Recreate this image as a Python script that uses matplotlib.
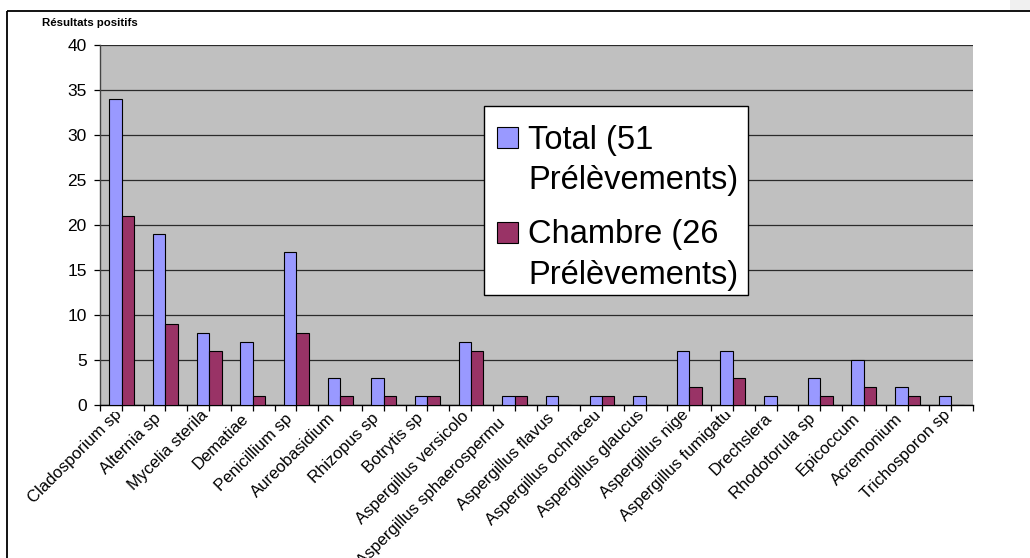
import matplotlib
matplotlib.use('Agg')
import matplotlib.pyplot as plt
import matplotlib.transforms as mtransforms
from matplotlib.patches import Rectangle
import numpy as np

plt.rcParams['font.family'] = ['Liberation Sans', 'DejaVu Sans']

# Moisissures identifiées (libellés tels qu'affichés sur l'axe)
categories = [
    "Cladosporium sp", "Alternia sp", "Mycelia sterila", "Dematiae",
    "Penicillium sp", "Aureobasidium", "Rhizopus sp", "Botrytis sp",
    "Aspergillus versicolo", "Aspergillus sphaerospermu", "Aspergillus flavus",
    "Aspergillus ochraceu", "Aspergillus glaucus", "Aspergillus nige",
    "Aspergillus fumigatu", "Drechslera", "Rhodotorula sp", "Epicoccum",
    "Acremonium", "Trichosporon sp",
]
total = [34, 19, 8, 7, 17, 3, 3, 1, 7, 1, 1, 1, 1, 6, 6, 1, 3, 5, 2, 1]
chambre = [21, 9, 6, 1, 8, 1, 1, 1, 6, 1, 0, 1, 0, 2, 3, 0, 1, 2, 1, 0]
series_names = ["Total (51\nPrélèvements)", "Chambre (26\nPrélèvements)"]
series_colors = ["#9999FF", "#993366"]
yticks = [0, 5, 10, 15, 20, 25, 30, 35, 40]

# labels too long for their slot: how far (px, along the text) they run on
# past the usual end; the part under the axis is cut off
overflowing = {
    "Cladosporium sp": 6, "Mycelia sterila": 5, "Aspergillus versicolo": 3,
    "Aspergillus sphaerospermu": -7, "Aspergillus ochraceu": 5,
    "Aspergillus glaucus": 5, "Aspergillus nige": 5,
    "Aspergillus fumigatu": 5, "Trichosporon sp": 5,
}

W, H = 1030, 558
fig = plt.figure(figsize=(W / 100, H / 100), dpi=100)
# pixel coordinates measured from the top-left corner
px = mtransforms.Affine2D().scale(1 / W, -1 / H).translate(0, 1) + fig.transFigure

# chart frame (only top and left edges fall inside the image)
fig.patches.append(Rectangle((7, 10.5), 1200, 800, transform=px, fill=False,
                             edgecolor="black", linewidth=1.3))
fig.patches.append(Rectangle((1010, 0), 20, 9.5, transform=px,
                             facecolor="#F0F0F0", edgecolor="none"))

ax = fig.add_axes([100 / W, 1 - 405 / H, 873 / W, 360 / H])
ax.set_facecolor("#C0C0C0")

n = len(categories)
x = np.arange(n) + 0.5
bw = 1 / 3.5
ax.bar(x - bw / 2, total, bw, color=series_colors[0], edgecolor="black",
       linewidth=0.8, zorder=3)
ax.bar(x + bw / 2, chambre, bw, color=series_colors[1], edgecolor="black",
       linewidth=0.8, zorder=3)

ax.set_xlim(0, n)
ax.set_ylim(0, 40)
ax.set_yticks(yticks)
ax.yaxis.grid(True, color="#2a2a2a", linewidth=0.9, zorder=1)
ax.set_axisbelow(True)

for side in ["top", "right"]:
    ax.spines[side].set_visible(False)
ax.spines["left"].set_color("#444444")
ax.spines["left"].set_linewidth(1.0)
ax.spines["bottom"].set_color("black")
ax.spines["bottom"].set_linewidth(1.0)

ax.set_xticks(np.arange(n + 1))
ax.set_xticklabels([])
ax.set_xticks(x, minor=True)
ax.set_xticklabels(categories, minor=True, rotation=45, ha="right",
                   va="center", rotation_mode="anchor")
ax.tick_params(axis="x", which="both", direction="out", length=4.5,
               width=0.9, color="black")
ax.tick_params(axis="x", which="minor", pad=2, labelsize=12)
ax.tick_params(axis="y", direction="out", length=4.5, width=0.9,
               color="black", labelsize=12.5, pad=5)

# labels sit a little left of their tick; long ones are cut just under the axis
label_clip = mtransforms.Bbox([[0, 0], [W, H - 412]])
for lab in ax.xaxis.get_minorticklabels():
    dx, dy = -7, -2
    run = overflowing.get(lab.get_text())
    if run is not None:
        dx, dy = dx + run * 0.707, dy + run * 0.707
        lab.set_clip_box(label_clip)
        lab.set_clip_on(True)
    lab.set_transform(lab.get_transform() + mtransforms.ScaledTranslation(
        dx / 100, dy / 100, fig.dpi_scale_trans))

fig.text(42.5, 23, "Résultats positifs", transform=px, fontsize=8.2,
         fontweight="bold", va="center", ha="left")

# legend box
fig.patches.append(Rectangle((484, 106), 263.5, 189, transform=px,
                             facecolor="white", edgecolor="black",
                             linewidth=1.0, zorder=5))
for name, color, top in zip(series_names, series_colors, [127, 221.5]):
    fig.patches.append(Rectangle((496.5, top), 21, 21, transform=px,
                                 facecolor=color, edgecolor="black",
                                 linewidth=0.8, zorder=6))
    # baseline of the last line of the label
    fig.text(528, top + 22.5 + 40, name, transform=px, fontsize=23.5,
             va="baseline", ha="left", linespacing=1.4, zorder=6)

fig.savefig("out.png", dpi=100)
